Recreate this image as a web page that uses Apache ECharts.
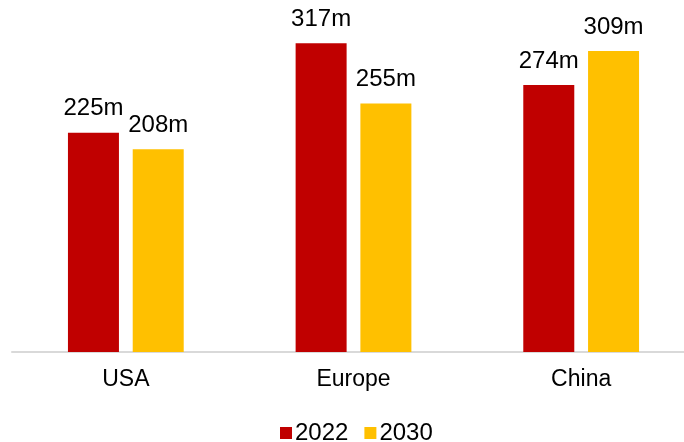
<!DOCTYPE html>
<html>
<head>
<meta charset="utf-8">
<script src="https://cdn.jsdelivr.net/npm/echarts@6/dist/echarts.min.js"></script>
<style>
  html, body { margin: 0; padding: 0; background: #fff; }
  #chart { width: 684px; height: 442px; }
</style>
</head>
<body>
<div id="chart"></div>
<script>
// Regions and yearly values (millions)
const regions = ['USA', 'Europe', 'China'];
const values2022 = [225, 317, 274];
const values2030 = [208, 255, 309];
const seriesNames = ['2022', '2030'];

const chart = echarts.init(document.getElementById('chart'));
const font = '"Liberation Sans", Arial, sans-serif';

function barSeries(name, data, color) {
  return {
    name: name,
    type: 'bar',
    data: data,
    barWidth: '22.4%',
    barGap: '27%',
    itemStyle: { color: color },
    label: {
      show: true,
      position: 'top',
      distance: 12,
      fontFamily: font,
      fontSize: 24,
      color: '#000',
      formatter: p => p.value + 'm'
    }
  };
}

chart.setOption({
  animation: false,
  grid: { left: 12, width: 683, top: 11, bottom: 90, outerBoundsMode: 'none', containLabel: false },
  legend: {
    data: seriesNames,
    left: 275,
    top: 416,
    itemWidth: 12,
    itemHeight: 12,
    itemGap: 16,
    icon: 'rect',
    textStyle: { fontFamily: font, fontSize: 24, color: '#000', padding: [0, 0, 0, -2] }
  },
  xAxis: {
    type: 'category',
    data: regions,
    axisLine: { lineStyle: { color: '#d9d9d9', width: 2 } },
    axisTick: { show: false },
    axisLabel: { fontFamily: font, fontSize: 23, color: '#000', margin: 16 }
  },
  yAxis: {
    type: 'value',
    min: 0,
    max: 350,
    show: false,
    splitLine: { show: false }
  },
  series: [
    barSeries(seriesNames[0], values2022, '#C00000'),
    barSeries(seriesNames[1], values2030, '#FFC000')
  ]
});
</script>
</body>
</html>
